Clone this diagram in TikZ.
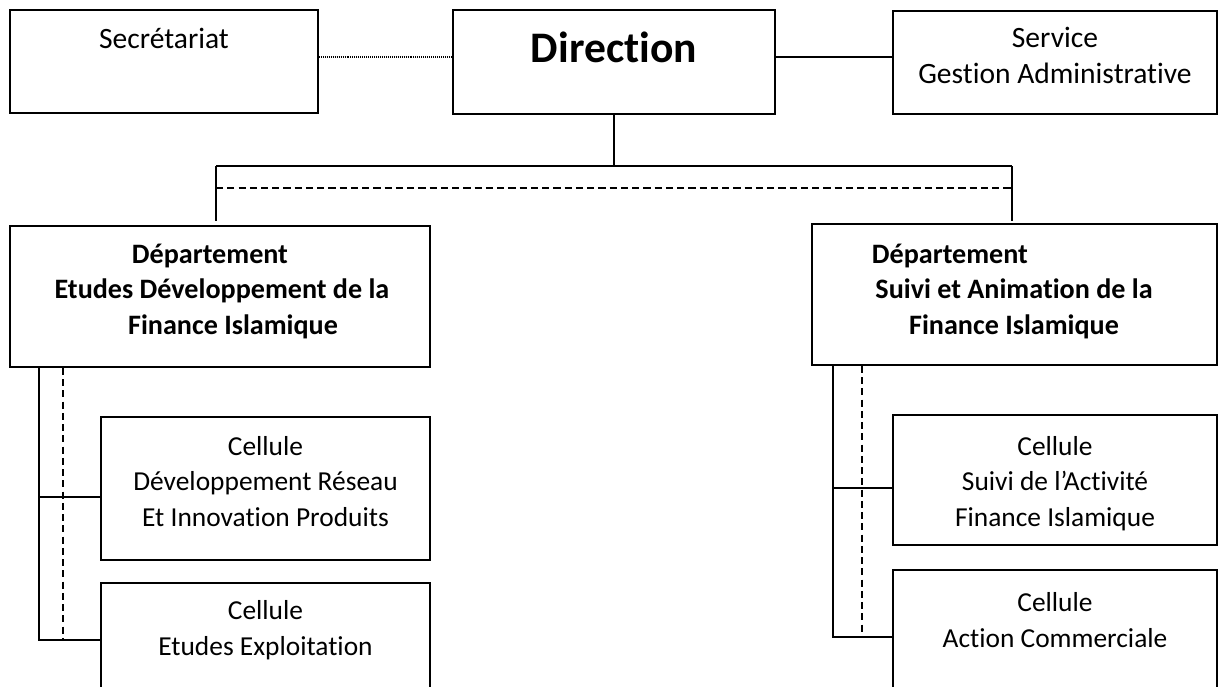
\documentclass[tikz,border=0pt]{standalone}
\usepackage{fontspec}
\setmainfont{Carlito}[Ligatures=NoCommon]
\usetikzlibrary{positioning}

\begin{document}
\begin{tikzpicture}[x=0.025cm,y=-0.025cm,
    box/.style={draw,line width=1.3pt,inner sep=0pt},
    txt/.style={align=center,anchor=base,inner sep=0pt,font=\fontsize{19.5}{24.9}\selectfont},
    toptxt/.style={txt,font=\fontsize{21}{24.9}\selectfont},
    bold/.style={txt,font=\fontsize{20}{24.9}\selectfont\bfseries},
    link/.style={line width=1.1pt},
    dashlink/.style={line width=1.1pt,dash pattern=on 5pt off 3pt},
    dotlink/.style={line width=1pt,dash pattern=on 0.7pt off 0.7pt}]
    \useasboundingbox (0,0) rectangle (1219,686);
    \clip (0,0) rectangle (1219,686);

    % draw the top row
    \node[box,minimum width=7.7cm,minimum height=2.575cm] (secr) at (164,61.5) {};
    \node[box,minimum width=8.05cm,minimum height=2.6cm] (dir) at (614,62) {};
    \node[box,minimum width=8.1cm,minimum height=2.575cm] (serv) at (1055,62.5) {};
    \node[toptxt] (secrtxt) at (164,48) {Secrétariat};
    \node[txt,font=\fontsize{31}{36}\selectfont\bfseries] (dirtxt) at (614,62) {Direction};
    \node[toptxt] (servtxt) at (1055,83) {Service\\Gestion Administrative};

    \draw[dotlink] (secr.east |- 0,57) -- (dir.west |- 0,57);
    \draw[link] (dir.east |- 0,57) -- (serv.west |- 0,57);

    % draw the departments
    \node[box,minimum width=10.5cm,minimum height=3.525cm] (deptL) at (220,296.5) {};
    \node[box,minimum width=10.125cm,minimum height=3.525cm] (deptR) at (1014.5,294.5) {};
    \node[bold] (deptLtxt) at (222,334) {Département\hspace*{0.6cm}\\Etudes Développement de la\\\hspace*{0.55cm}Finance Islamique};
    \node[bold] (deptRtxt) at (1014,334) {Département\hspace*{3.2cm}\\Suivi et Animation de la\\Finance Islamique};

    \coordinate (busL) at (216,166);
    \coordinate (busR) at (1012,166);
    \draw[link] (dir.south) -- (dir.south |- busL);
    \draw[link] (busL) -- (busR);
    \draw[link] (busL) -- +(0,55);
    \draw[link] (busR) -- +(0,55);
    \draw[dashlink] (216,188) -- (1012,188);

    % draw the cells
    \node[box,minimum width=8.225cm,minimum height=3.575cm] (cellL1) at (265.5,488.5) {};
    \node[box,minimum width=8.225cm,minimum height=3.925cm] (cellL2) at (265.5,661.5) {};
    \node[box,minimum width=8.1cm,minimum height=3.25cm] (cellR1) at (1055,480) {};
    \node[box,minimum width=8.1cm,minimum height=4.25cm] (cellR2) at (1055,655) {};
    \node[txt] (cellL1txt) at (265.5,526) {Cellule\\Développement Réseau\\Et Innovation Produits};
    \node[txt] (cellL2txt) at (265.5,655) {Cellule\\Etudes Exploitation};
    \node[txt] (cellR1txt) at (1055,526) {Cellule\\Suivi de l’Activité\\Finance Islamique};
    \node[txt] (cellR2txt) at (1055,647) {Cellule\\Action Commerciale};

    \draw[link] (deptL.south -| 39,0) -- (39,640) -- (cellL2.west |- 0,640);
    \draw[link] (39,497) -- (cellL1.west |- 0,497);
    \draw[dashlink] (deptL.south -| 63,0) -- (63,640);

    \draw[link] (deptR.south -| 833,0) -- (833,637) -- (cellR2.west |- 0,637);
    \draw[link] (833,488) -- (cellR1.west |- 0,488);
    \draw[dashlink] (deptR.south -| 862,0) -- (862,637);
\end{tikzpicture}
\end{document}
